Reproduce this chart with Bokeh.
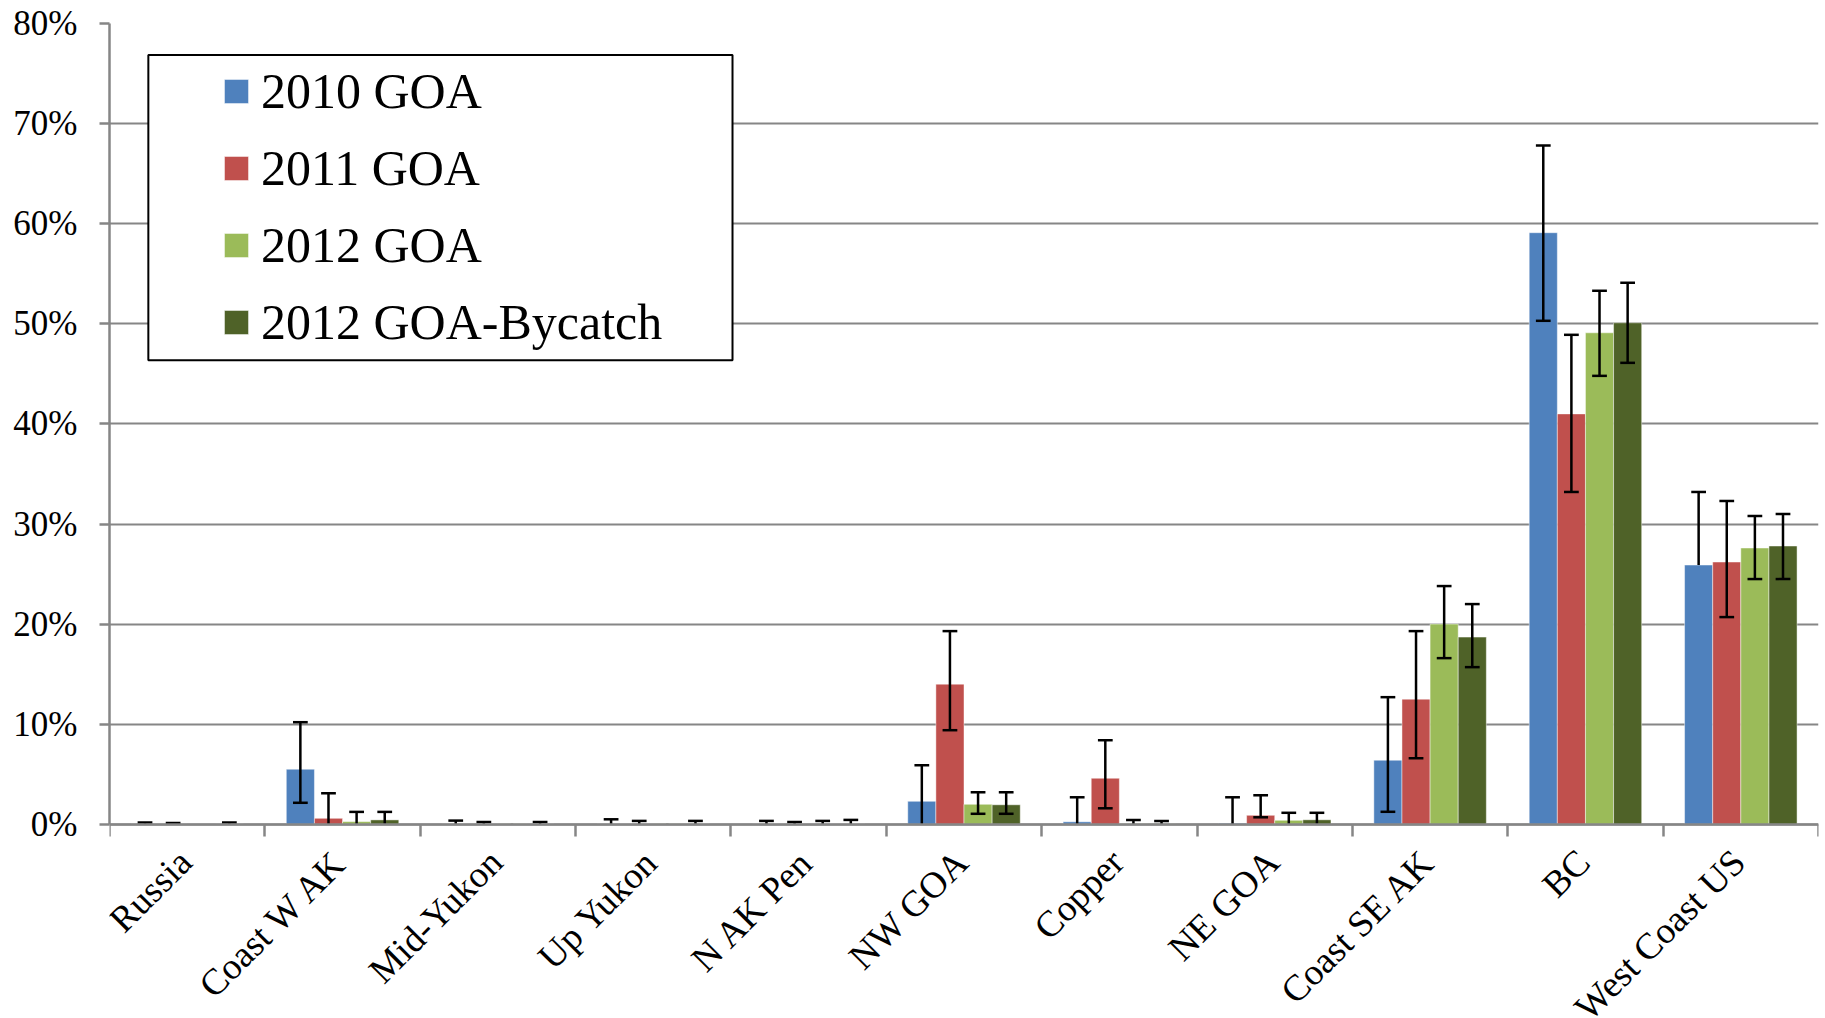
import math
from bokeh.plotting import figure
from bokeh.core.properties import value
from bokeh.models import (Range1d, FixedTicker, PrintfTickFormatter, Legend, LegendItem,
                          BoxAnnotation, ColumnDataSource)
from bokeh.embed import file_html
from bokeh.resources import INLINE

categories = ["Russia", "Coast W AK", "Mid-Yukon", "Up Yukon", "N AK Pen", "NW GOA",
              "Copper", "NE GOA", "Coast SE AK", "BC", "West Coast US"]
series_names = ["2010 GOA", "2011 GOA", "2012 GOA", "2012 GOA-Bycatch"]
colors = ["#4F81BD", "#C0504D", "#9BBB59", "#4F6228"]

# values in percent
goa_2010 = [0.03, 5.5, 0.03, 0.03, 0.03, 2.3, 0.25, 0.1, 6.4, 59.1, 25.9]
goa_2010_hi = [0.17, 10.2, 0.37, 0.5, 0.34, 5.9, 2.7, 2.7, 12.7, 67.8, 33.2]
goa_2010_lo = [0.0, 2.15, 0.0, 0.0, 0.0, 0.0, 0.0, 0.0, 1.25, 50.3, 25.9]

goa_2011 = [0.03, 0.6, 0.03, 0.03, 0.03, 14.0, 4.6, 0.9, 12.5, 41.0, 26.2]
goa_2011_hi = [0.13, 3.1, 0.23, 0.34, 0.23, 19.3, 8.4, 2.9, 19.3, 48.9, 32.3]
goa_2011_lo = [0.0, 0.0, 0.0, 0.0, 0.0, 9.4, 1.6, 0.7, 6.6, 33.2, 20.7]

goa_2012 = [0.0, 0.27, 0.05, 0.05, 0.03, 2.0, 0.05, 0.4, 20.0, 49.1, 27.6]
goa_2012_hi = [0.0, 1.24, 0.05, 0.05, 0.34, 3.2, 0.43, 1.15, 23.8, 53.3, 30.8]
goa_2012_lo = [0.0, 0.0, 0.0, 0.0, 0.0, 1.05, 0.0, 0.0, 16.6, 44.8, 24.5]

bycatch_2012 = [0.03, 0.44, 0.03, 0.03, 0.03, 1.95, 0.05, 0.45, 18.7, 50.1, 27.8]
bycatch_2012_hi = [0.17, 1.24, 0.23, 0.34, 0.44, 3.2, 0.33, 1.15, 22.0, 54.1, 31.0]
bycatch_2012_lo = [0.0, 0.0, 0.0, 0.0, 0.0, 1.05, 0.0, 0.0, 15.7, 46.1, 24.5]

y_ticks = [0, 10, 20, 30, 40, 50, 60, 70, 80]

series_vals = [goa_2010, goa_2011, goa_2012, bycatch_2012]
series_hi = [goa_2010_hi, goa_2011_hi, goa_2012_hi, bycatch_2012_hi]
series_lo = [goa_2010_lo, goa_2011_lo, goa_2012_lo, bycatch_2012_lo]

FONT = "Liberation Serif"
GRAY = "#868686"

# frame: 80% at the top, extends below 0 so the rotated category names fit inside it
p = figure(frame_width=1709, frame_height=995, x_range=Range1d(0, len(categories)),
           y_range=Range1d(-19.4, 80), output_backend="svg", toolbar_location=None,
           x_axis_location="above",
           min_border_left=109, min_border_top=23, min_border_right=2, min_border_bottom=0)
p.outline_line_color = None
p.background_fill_color = "white"

centers = [i + 0.5 for i in range(len(categories))]
bar_w = 0.181
cap_w = 0.095

renderers = []
for k, (vals, his, los) in enumerate(zip(series_vals, series_hi, series_lo)):
    off = (k - 1.5) * bar_w
    xs = [c + off for c in centers]
    src = ColumnDataSource(dict(x=xs, top=vals))
    r = p.vbar(x="x", top="top", bottom=0, width=bar_w, source=src,
               fill_color=colors[k], line_color="white", line_alpha=0.45, line_width=1)
    renderers.append(r)
    # error bars
    sx0, sy0, sx1, sy1 = [], [], [], []
    cx0, cx1, cy = [], [], []
    for x, v, hi, lo in zip(xs, vals, his, los):
        if hi > v or lo < v:
            sx0.append(x); sx1.append(x); sy0.append(lo); sy1.append(hi)
        if hi > v:
            cx0.append(x - cap_w / 2); cx1.append(x + cap_w / 2); cy.append(hi)
        if lo < v and lo > 0.05:
            cx0.append(x - cap_w / 2); cx1.append(x + cap_w / 2); cy.append(lo)
    p.segment(x0=sx0, y0=sy0, x1=sx1, y1=sy1, line_color="black", line_width=2.5)
    p.segment(x0=cx0, y0=cy, x1=cx1, y1=cy, line_color="black", line_width=2.5)

# x axis drawn at y = 0 with tick marks at the category boundaries only
xa = p.xaxis[0]
xa.fixed_location = 0
xa.ticker = FixedTicker(ticks=[], minor_ticks=list(range(len(categories) + 1)))
xa.major_label_standoff = 0
xa.major_tick_out = 0
xa.major_tick_in = 0
xa.minor_tick_out = 0
xa.minor_tick_in = 12
xa.minor_tick_line_color = GRAY
xa.minor_tick_line_width = 2.5
xa.axis_line_color = GRAY
xa.axis_line_width = 2.5

# category names, rotated 45 degrees under the axis
cat_src = ColumnDataSource(dict(x=centers, y=[-3.15] * len(centers), text=categories))
p.text(x="x", y="y", text="text", source=cat_src, angle=math.pi / 4,
       x_offset=-2, text_align="right", text_baseline="middle",
       text_font=value(FONT), text_font_size=value("37px"), text_color="black")

# y axis
ya = p.yaxis[0]
ya.bounds = (0, 80)
ya.ticker = FixedTicker(ticks=y_ticks, minor_ticks=[])
ya.formatter = PrintfTickFormatter(format="%d%%")
ya.major_tick_out = 10
ya.major_tick_in = 0
ya.major_tick_line_color = GRAY
ya.major_tick_line_width = 2.5
ya.axis_line_color = GRAY
ya.axis_line_width = 2.5
ya.major_label_standoff = 22
ya.major_label_text_font = FONT
ya.major_label_text_font_size = "35px"
ya.major_label_text_color = "black"

p.xgrid.visible = False
p.ygrid.ticker = FixedTicker(ticks=y_ticks)
p.ygrid.grid_line_color = GRAY
p.ygrid.grid_line_width = 2

# legend frame
box = BoxAnnotation(left=0.25, right=4.01, top=76.85, bottom=46.35,
                    fill_color="white", fill_alpha=1.0,
                    line_color="black", line_width=2, line_alpha=1.0)
p.add_layout(box)

legend = Legend(items=[LegendItem(label=n, renderers=[r]) for n, r in zip(series_names, renderers)],
                location=(112, 667), padding=0, margin=0,
                border_line_alpha=0, background_fill_alpha=0,
                label_text_font=FONT, label_text_font_size="50px", label_text_color="black",
                glyph_width=30, glyph_height=30, label_standoff=10, spacing=19, label_height=58)
p.add_layout(legend)

open("out.html", "w").write(file_html(p, INLINE))
